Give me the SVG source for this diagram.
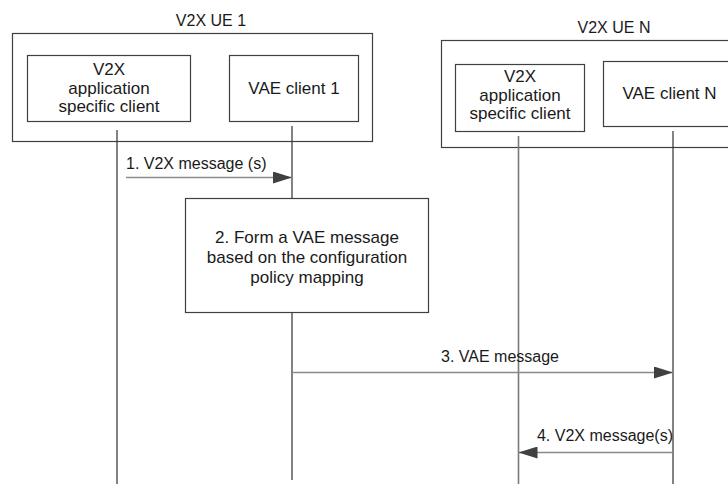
<svg xmlns="http://www.w3.org/2000/svg" width="728" height="484" viewBox="0 0 728 484">
<style>
  .box { fill: #ffffff; stroke: #404040; stroke-width: 1.2; }
  .frame { fill: none; stroke: #404040; stroke-width: 1.2; }
  .life { stroke: #303030; stroke-width: 1.2; fill: none; }
  .lifeg { stroke: #7a7a7a; stroke-width: 1.6; fill: none; }
  .msg { stroke: #8a8a8a; stroke-width: 1.6; fill: none; }
  .t { font-family: "Liberation Sans", Arial, sans-serif; font-size: 17px; fill: #1a1a1a; }
  .tm { font-family: "Liberation Sans", Arial, sans-serif; font-size: 16px; fill: #1a1a1a; }
  .c { text-anchor: middle; }
</style>
<defs>
  <marker id="ah" markerUnits="userSpaceOnUse" markerWidth="20" markerHeight="12" refX="19" refY="6" orient="auto">
    <path d="M0,0 L19,6 L0,12 Z" fill="#404040"/>
  </marker>
</defs>

<g id="ue1">
  <rect class="frame" x="12.5" y="33.5" width="360" height="108"/>
  <text class="tm c" x="211" y="26">V2X UE 1</text>
</g>
<g id="ueN">
  <rect class="frame" x="441.5" y="40.5" width="300" height="107"/>
  <text class="tm c" x="614" y="33">V2X UE N</text>
</g>

<g id="app1">
  <rect class="box" x="27.5" y="55.5" width="163" height="66"/>
  <text class="t c" x="109" y="75">V2X</text>
  <text class="t c" x="109" y="93.5">application</text>
  <text class="t c" x="109" y="112">specific client</text>
</g>
<g id="vae1">
  <rect class="box" x="229.5" y="55.5" width="129" height="66"/>
  <text class="t c" x="294" y="94">VAE client 1</text>
</g>
<g id="appN">
  <rect class="box" x="455.5" y="64.5" width="129" height="67"/>
  <text class="t c" x="520" y="82">V2X</text>
  <text class="t c" x="520" y="100.5">application</text>
  <text class="t c" x="520" y="119">specific client</text>
</g>
<g id="vaeN">
  <rect class="box" x="603.5" y="61.5" width="140" height="65"/>
  <text class="t c" x="669.5" y="98.5">VAE client N</text>
</g>

<g id="connectors">
  <line class="life" x1="117" y1="130" x2="117" y2="484"/>
  <line class="life" x1="292" y1="126" x2="292" y2="480"/>
  <line class="lifeg" x1="518.5" y1="136" x2="518.5" y2="484"/>
  <line class="life" x1="673" y1="131" x2="673" y2="484"/>

  <line class="msg" x1="126" y1="177.5" x2="292" y2="177.5" marker-end="url(#ah)"/>
  <text class="tm" x="126" y="168.5">1. V2X message (s)</text>

  <line class="msg" x1="292" y1="372.5" x2="673" y2="372.5" marker-end="url(#ah)"/>
  <text class="tm c" x="500" y="361.5">3. VAE message</text>

  <line class="msg" x1="672" y1="452.5" x2="518.5" y2="452.5" marker-end="url(#ah)"/>
  <text class="tm c" x="605" y="441">4. V2X message(s)</text>
</g>

<g id="form">
  <rect class="box" x="185.5" y="198.5" width="243" height="114"/>
  <text class="t c" x="307" y="243">2. Form a VAE message</text>
  <text class="t c" x="307" y="263">based on the configuration</text>
  <text class="t c" x="307" y="283">policy mapping</text>
</g>
</svg>
